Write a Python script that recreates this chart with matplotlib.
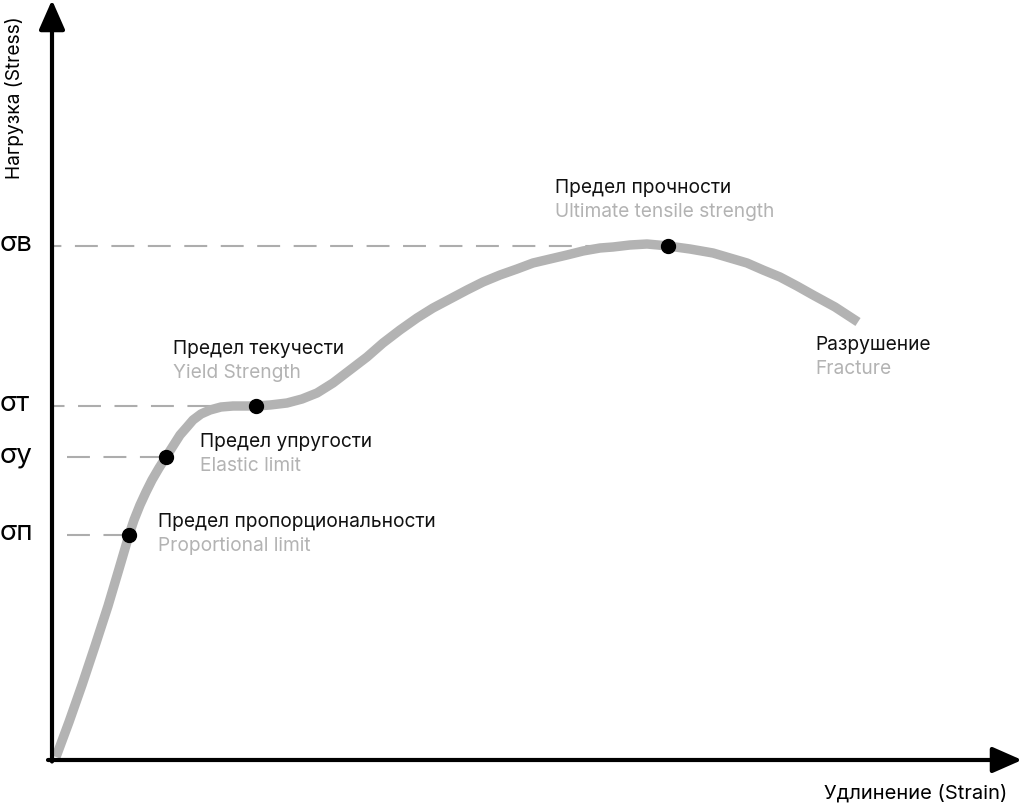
import matplotlib
matplotlib.use("Agg")
import matplotlib.pyplot as plt

plt.rcParams['font.family'] = ['Inter', 'DejaVu Sans']

# stress-strain curve (strain right, stress up)
strain = [4, 17, 30, 43, 56, 67, 77, 82, 88, 94, 100, 107, 114,
          121, 128, 135, 141, 149, 158, 169, 181, 193, 204, 218, 235, 250,
          265, 273, 281, 298, 315, 331, 348, 365, 381, 398, 415, 431, 448,
          465, 481, 498, 515, 531, 548, 561, 578, 595, 606, 616, 638, 661,
          678, 695, 711, 728, 745, 761, 783, 806]
stress = [3, 38, 75, 114, 154, 191, 225, 240, 255, 268, 280, 292, 303,
          314, 325, 333, 340, 346, 350, 353, 354, 354, 354, 355, 357, 361,
          367, 372, 377, 390, 403, 417, 430, 442, 452, 461, 470, 478, 485,
          491, 497, 501, 505, 509, 512, 513, 515, 516, 515, 514, 511, 507,
          502, 497, 490, 483, 474, 465, 453, 438]

# key points
pt_strain = [77, 114, 204, 616]
pt_stress = [225, 303, 354, 514]
pt_symbols = ['σп', 'σу', 'σт', 'σв']
dash_start = [15, 15, 0, 0]
dash_offset = [0, 0, 5, 6.5]

names_ru = ['Предел пропорциональности', 'Предел упругости',
            'Предел текучести', 'Предел прочности', 'Разрушение']
names_en = ['Proportional limit', 'Elastic limit', 'Yield Strength',
            'Ultimate tensile strength', 'Fracture']
label_x = [106, 148, 121, 503, 763]
label_y = [238, 318, 411, 572, 415]

fig = plt.figure(figsize=(10.24, 8.05), dpi=100)
ax = fig.add_axes([0, 0, 1, 1])
ax.set_xlim(-52, 972)
ax.set_ylim(-45, 760)
ax.axis('off')

# axes with arrows
ax.annotate('', xy=(0, 760), xytext=(0, -1.5),
            arrowprops=dict(arrowstyle='-|>,head_length=0.5,head_width=0.22',
                            mutation_scale=36, lw=3, color='black',
                            shrinkA=0, shrinkB=0))
ax.annotate('', xy=(970, 0), xytext=(-4, 0),
            arrowprops=dict(arrowstyle='-|>,head_length=0.5,head_width=0.22',
                            mutation_scale=36, lw=3, color='black',
                            shrinkA=0, shrinkB=0))

# dashed guides
for xs, ys, x0, off in zip(pt_strain, pt_stress, dash_start, dash_offset):
    ax.plot([x0, xs], [ys, ys], color='#adadad', lw=1.5,
            linestyle=(off, (11, 6.5)), zorder=1)

ax.plot(strain, stress, color='#b3b3b3', lw=6.8, solid_joinstyle='round',
        solid_capstyle='butt', zorder=2)
ax.plot(pt_strain, pt_stress, 'o', color='black', ms=10, zorder=3)

for sym, ys in zip(pt_symbols, pt_stress):
    ax.text(-52, ys + 2, sym, fontsize=20, va='center', ha='left', color='black')

for ru, en, x, y in zip(names_ru, names_en, label_x, label_y):
    ax.text(x, y, ru, fontsize=13.8, va='center', ha='left', color='#111111')
    ax.text(x, y - 24, en, fontsize=13.8, va='center', ha='left', color='#b3b3b3')

ax.text(-37, 662, 'Нагрузка (Stress)', fontsize=13.8, rotation=90,
        va='center', ha='center')
ax.text(955, -33, 'Удлинение (Strain)', fontsize=14.5, va='center', ha='right')

plt.savefig('out.png', dpi=100)
